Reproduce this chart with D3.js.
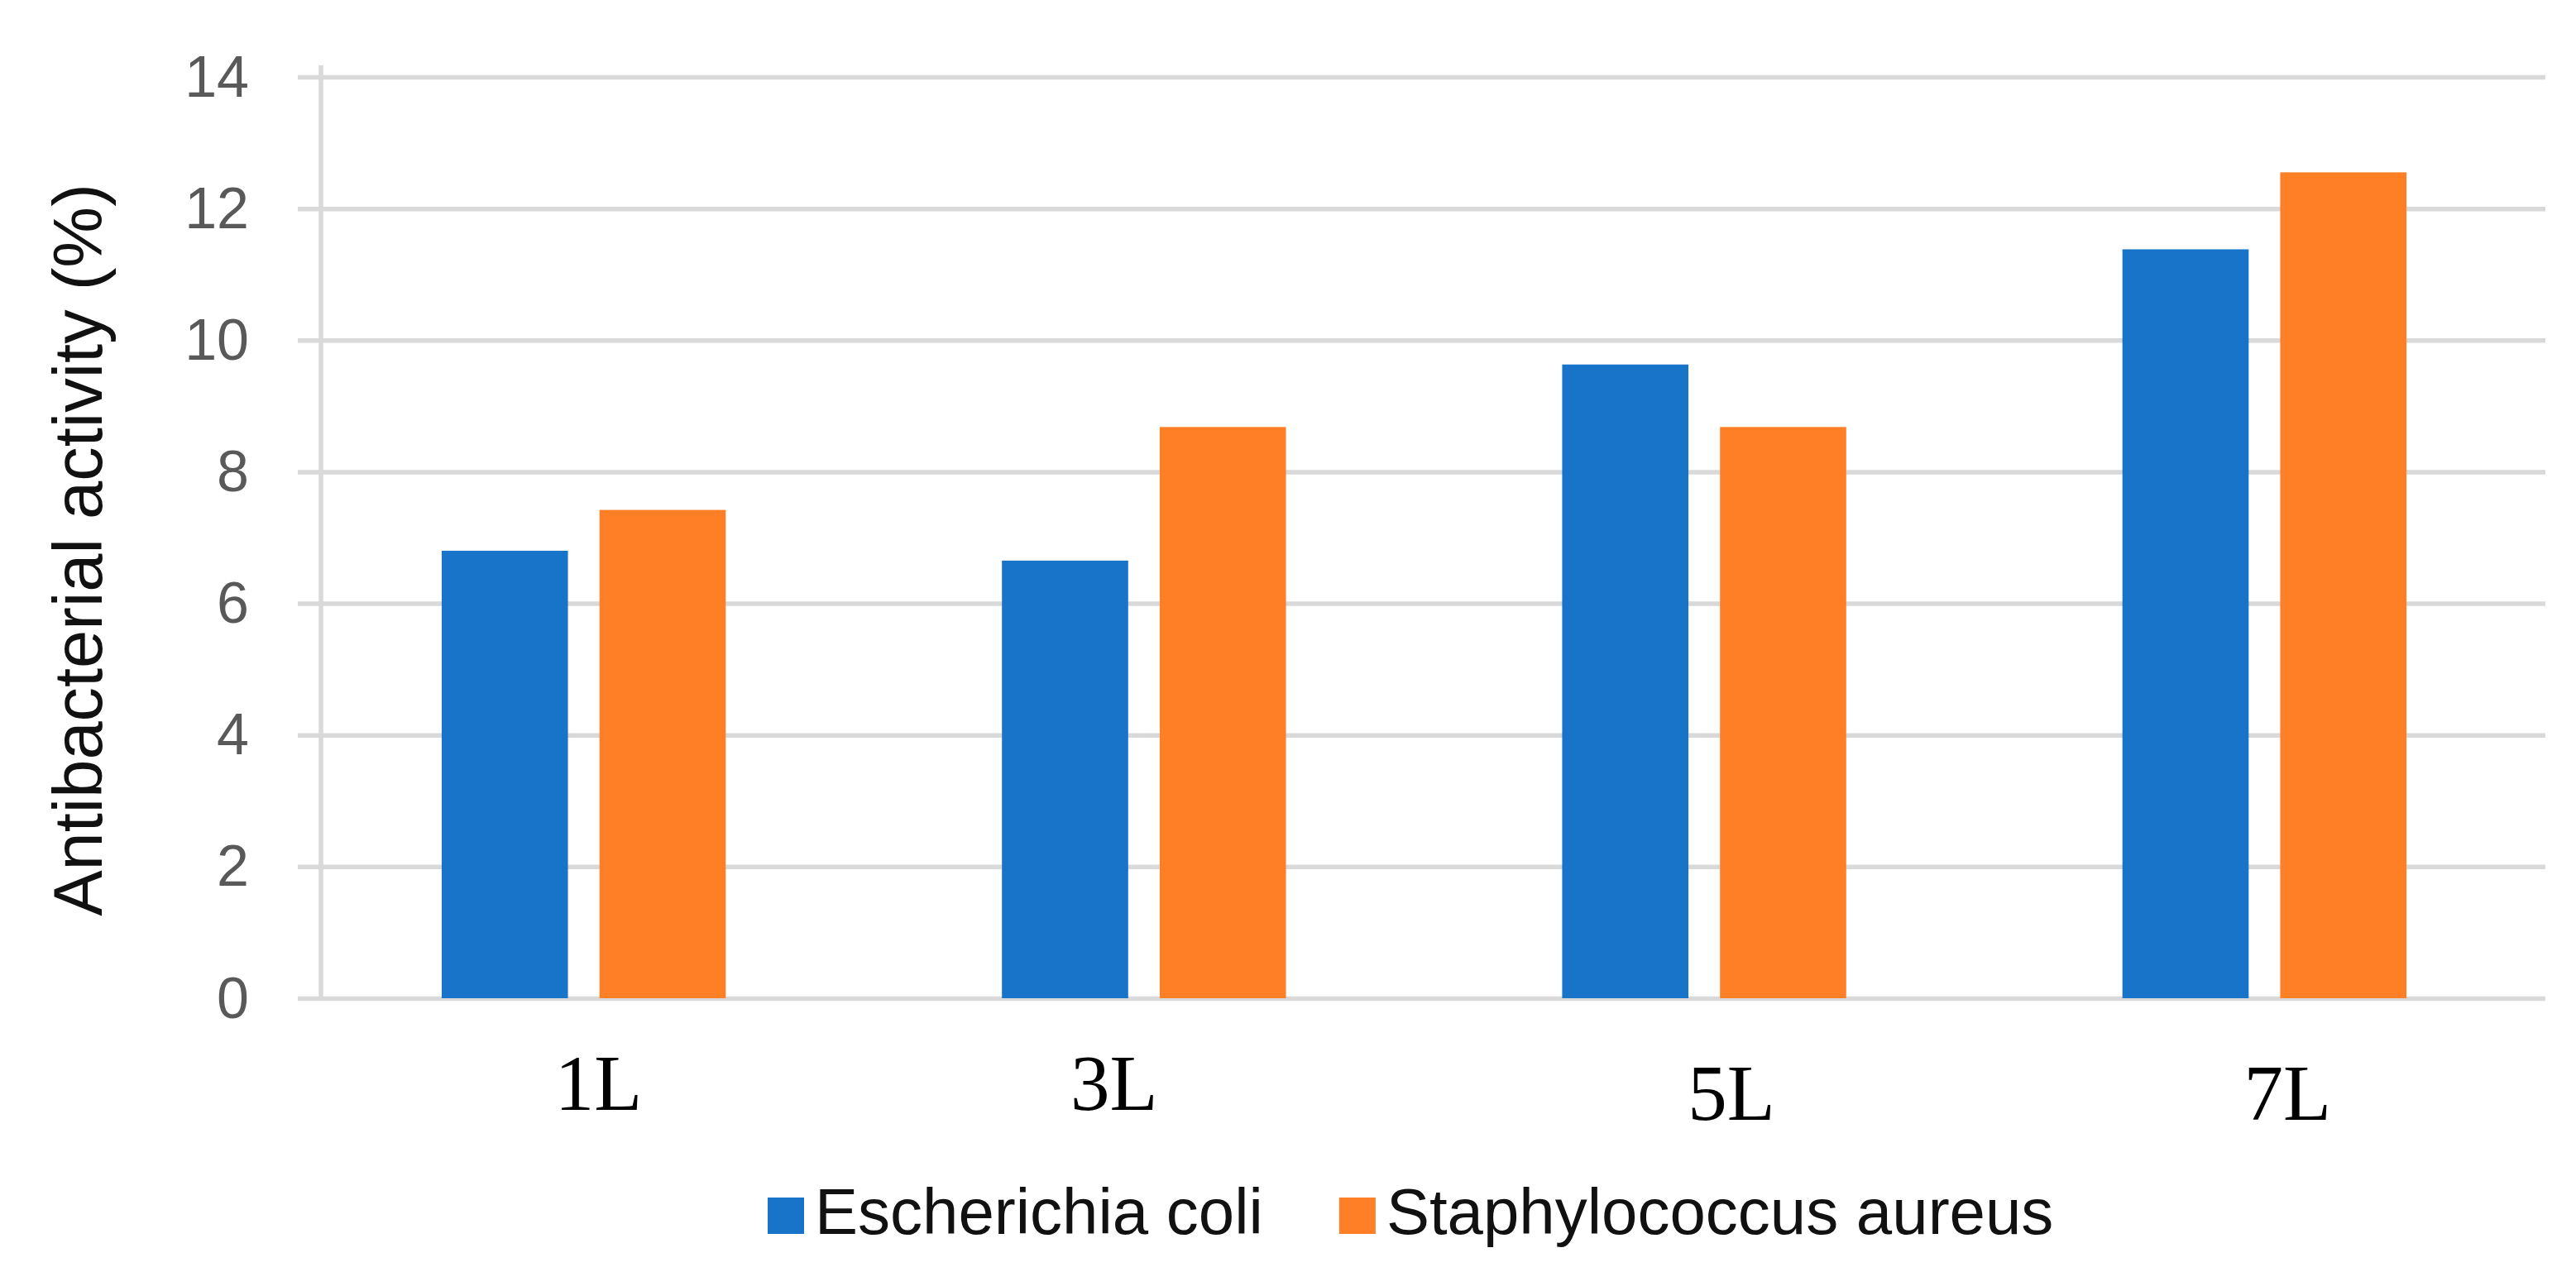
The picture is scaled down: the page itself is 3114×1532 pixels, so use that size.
<!DOCTYPE html>
<html>
<head>
<meta charset="utf-8">
<script src="https://cdn.jsdelivr.net/npm/d3@7"></script>
<style>
  html, body { margin: 0; padding: 0; background: #ffffff; }
  svg { display: block; }
</style>
</head>
<body>
<div id="chart"></div>
<script>
// data
const categories = ["1L", "3L", "5L", "7L"];
const seriesNames = ["Escherichia coli", "Staphylococcus aureus"];
const ecoliValues = [6.8, 6.65, 9.63, 11.38];
const saureusValues = [7.42, 8.68, 8.68, 12.55];
const yTicks = [0, 2, 4, 6, 8, 10, 12, 14];
const yTitle = "Antibacterial activity (%)";

// styling
const width = 3114;
const height = 1532;
const seriesColors = ["#1874c8", "#ff7f27"];
const gridColor = "#d9d9d9";
const tickColor = "#595959";
const textColor = "#111111";
const sansFont = "'Liberation Sans', Arial, sans-serif";
const serifFont = "'Liberation Serif', 'Times New Roman', serif";
const plotLeft = 367;
const plotRight = 3076;
const plotTop = 93;
const plotBottom = 1207;
const gridStart = 360;
const axisLineX = 388;
// hand placed category labels in the original
const labelNudge = [[18, 0], [-36, 0], [33, 12], [28, 12]];

const rows = categories.map((c, i) => ({
  category: c,
  values: [ecoliValues[i], saureusValues[i]],
}));

const svg = d3
  .select("#chart")
  .append("svg")
  .attr("width", width)
  .attr("height", height)
  .attr("viewBox", `0 0 ${width} ${height}`);

svg.append("rect").attr("width", width).attr("height", height).attr("fill", "#ffffff");

const xScale = d3
  .scaleBand()
  .domain(categories)
  .range([plotLeft, plotRight])
  .paddingInner(0.493)
  .paddingOuter(0.2465);

const seriesScale = d3
  .scaleBand()
  .domain(d3.range(seriesNames.length))
  .range([0, xScale.bandwidth()])
  .paddingInner(0.2);

const yScale = d3.scaleLinear().domain([0, 14]).range([plotBottom, plotTop]);

function drawGrid() {
  const yAxis = svg
    .append("g")
    .attr("transform", `translate(${gridStart}, 0)`)
    .call(
      d3
        .axisRight(yScale)
        .tickValues(yTicks)
        .tickSize(plotRight + 1 - gridStart)
        .tickFormat("")
    );
  yAxis.select(".domain").remove();
  yAxis.selectAll(".tick line").attr("stroke", gridColor).attr("stroke-width", 5.5);

  svg
    .append("line")
    .attr("x1", axisLineX)
    .attr("x2", axisLineX)
    .attr("y1", plotTop - 14)
    .attr("y2", plotBottom)
    .attr("stroke", gridColor)
    .attr("stroke-width", 5.5);
}

function drawYLabels() {
  const labels = svg
    .append("g")
    .attr("transform", "translate(301, 0)")
    .call(d3.axisLeft(yScale).tickValues(yTicks).tickSize(0).tickPadding(0));
  labels.select(".domain").remove();
  labels
    .selectAll(".tick text")
    .attr("fill", tickColor)
    .attr("font-family", sansFont)
    .attr("font-size", 70)
    .attr("dy", "0.33em");

  svg
    .append("text")
    .attr("transform", "translate(123, 665) rotate(-90)")
    .attr("text-anchor", "middle")
    .attr("font-family", sansFont)
    .attr("font-size", 83)
    .attr("fill", textColor)
    .text(yTitle);
}

function drawBars() {
  const groups = svg
    .selectAll(".bar-group")
    .data(rows)
    .enter()
    .append("g")
    .attr("class", "bar-group")
    .attr("transform", (d) => `translate(${xScale(d.category)}, 0)`);

  groups
    .selectAll("rect")
    .data((d) => d.values.map((v, i) => ({ v, i })))
    .enter()
    .append("rect")
    .attr("x", (d) => seriesScale(d.i))
    .attr("width", seriesScale.bandwidth())
    .attr("y", (d) => yScale(d.v))
    .attr("height", (d) => yScale(0) - yScale(d.v))
    .attr("fill", (d) => seriesColors[d.i]);
}

function drawXLabels() {
  const xAxis = svg
    .append("g")
    .attr("transform", `translate(0, ${plotBottom})`)
    .call(d3.axisBottom(xScale).tickSize(0).tickPadding(0));
  xAxis.select(".domain").remove();
  xAxis
    .selectAll(".tick text")
    .attr("font-family", serifFont)
    .attr("font-size", 95)
    .attr("fill", "#000000")
    .attr("dy", null)
    .attr("x", (d, i) => labelNudge[i][0])
    .attr("y", (d, i) => 135 + labelNudge[i][1]);
}

function drawLegend() {
  const legend = svg.append("g").attr("transform", "translate(928, 1492)");
  let x = 0;
  seriesNames.forEach((name, i) => {
    const item = legend.append("g").attr("transform", `translate(${x}, 0)`);
    item
      .append("rect")
      .attr("x", 0)
      .attr("y", -44)
      .attr("width", 44)
      .attr("height", 44)
      .attr("fill", seriesColors[i]);
    const label = item
      .append("text")
      .attr("x", 57)
      .attr("y", 0)
      .attr("font-family", sansFont)
      .attr("font-size", 78)
      .attr("fill", textColor)
      .text(name);
    x += 57 + label.node().getComputedTextLength() + 92;
  });
}

drawGrid();
drawBars();
drawYLabels();
drawXLabels();
drawLegend();
</script>
</body>
</html>
